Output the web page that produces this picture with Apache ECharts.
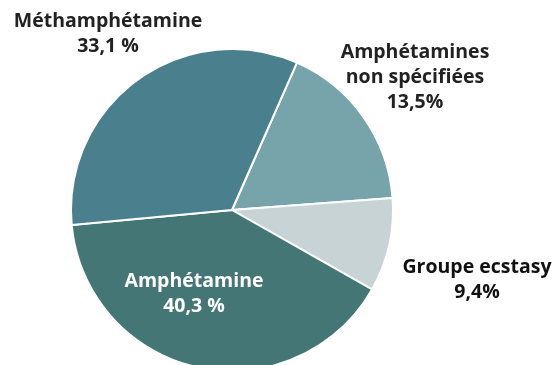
<!DOCTYPE html>
<html>
<head>
<meta charset="utf-8">
<script src="https://cdn.jsdelivr.net/npm/echarts@6/dist/echarts.min.js"></script>
<style>
  html, body { margin: 0; padding: 0; background: #fff; }
  #chart { width: 552px; height: 365px; }
</style>
</head>
<body>
<div id="chart"></div>
<script>
// catégories, dans l'ordre horaire depuis la coupure en haut
var names = ['Amphétamines\nnon spécifiées', 'Groupe ecstasy', 'Amphétamine', 'Méthamphétamine'];
// part dessinée des secteurs
var values = [17.2, 9.4, 40.3, 33.1];
// textes affichés
var pctLabels = ['13,5%', '9,4%', '40,3 %', '33,1 %'];
var colors = ['#77a4ab', '#c7d3d5', '#437675', '#4a7f8e'];

// position des étiquettes (centre du bloc)
var labelPos = [[415, 77], [477, 280], [194, 294], [108, 34]];
var labelColors = ['#222', '#111', '#fff', '#222'];

var pieData = names.map(function (n, i) {
    return {
        name: n,
        value: values[i],
        itemStyle: { color: colors[i] },
        label: { color: labelColors[i] }
    };
});

var option = {
    animation: false,
    series: [{
        type: 'pie',
        center: [232, 210],
        radius: 161,
        startAngle: 66.2,
        clockwise: true,
        avoidLabelOverlap: false,
        itemStyle: {
            borderColor: '#fff',
            borderWidth: 2
        },
        label: {
            show: true,
            position: 'outside',
            fontFamily: 'Open Sans',
            fontWeight: 'bold',
            fontSize: 19.5,
            lineHeight: 25,
            align: 'center',
            formatter: function (p) {
                return p.name + '\n' + pctLabels[p.dataIndex];
            }
        },
        labelLine: { show: false },
        labelLayout: function (params) {
            var pos = labelPos[params.dataIndex];
            return {
                x: pos[0],
                y: pos[1],
                align: 'center',
                verticalAlign: 'middle'
            };
        },
        data: pieData
    }]
};

var chart = echarts.init(document.getElementById('chart'));
chart.setOption(option);
</script>
</body>
</html>
